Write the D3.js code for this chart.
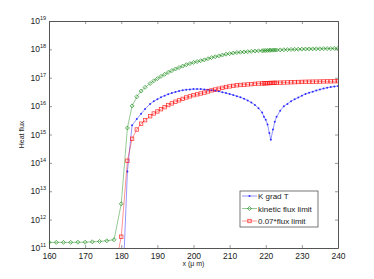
<!DOCTYPE html>
<html>
<head>
<meta charset="utf-8">
<script src="https://cdn.jsdelivr.net/npm/d3@7"></script>
<style>
  body { margin: 0; background: #fff; }
  svg { display: block; font-family: "Liberation Sans", Arial, sans-serif; }
</style>
</head>
<body>
<div id="chart"></div>
<script>
var width = 374,
	height = 279;
var margin = {top: 21, right: 36, bottom: 31, left: 49};

// x positions (µm)
var xs = [160, 162, 164, 166, 168, 170, 172, 174, 176, 178,
	180, 181.7, 183, 184.3, 185.5, 186.6, 188, 189, 190, 191, 192, 193, 194, 195,
	196, 197, 198, 199, 200, 201, 202, 203, 204, 205, 206, 207, 208, 209, 210,
	211, 212, 213, 214, 215, 216, 217, 218, 219, 219.5, 220, 220.5, 221, 221.4,
	222, 222.5, 223, 224, 225, 226, 227, 228, 229, 230, 231, 232, 233, 234, 235,
	236, 237, 238, 239, 240];

// K grad T (nothing drawn before 180)
var kgrad = [null, null, null, null, null, null, null, null, null, null,
	2e8, 5e13, 2.1e15, 3.5e15, 5.4e15, 7.9e15, 1.2e16, 1.48e16, 1.74e16, 2.04e16, 2.34e16, 2.63e16, 2.88e16, 3.16e16,
	3.39e16, 3.63e16, 3.8e16, 3.89e16, 3.98e16, 3.98e16, 3.98e16, 3.89e16, 3.8e16, 3.63e16, 3.47e16, 3.31e16, 3.09e16, 2.88e16, 2.69e16,
	2.45e16, 2.24e16, 2.04e16, 1.82e16, 1.58e16, 1.35e16, 1.1e16, 8.5e15, 6.0e15, 4.2e15, 3.3e15, 2.24e15, 1.12e15, 6.5e14,
	1.5e15, 2.8e15, 4.2e15, 6.9e15, 9.8e15, 1.2e16, 1.48e16, 1.74e16, 2.0e16, 2.34e16, 2.69e16, 2.95e16, 3.24e16, 3.55e16, 3.89e16,
	4.17e16, 4.47e16, 4.68e16, 4.9e16, 5.13e16];

// kinetic flux limit
var kinetic = [1.58e11, 1.58e11, 1.58e11, 1.58e11, 1.6e11, 1.6e11, 1.65e11, 1.7e11, 1.8e11, 1.95e11,
	3.6e12, 1.7e15, 1.02e16, 2.14e16, 3.4e16, 4.6e16, 6.3e16, 7.8e16, 9.3e16, 1.12e17, 1.32e17, 1.55e17, 1.78e17, 2.04e17,
	2.29e17, 2.57e17, 2.88e17, 3.16e17, 3.47e17, 3.72e17, 3.98e17, 4.27e17, 4.68e17, 5.13e17, 5.5e17, 5.89e17, 6.31e17, 6.76e17, 7.08e17,
	7.41e17, 7.76e17, 7.94e17, 8.13e17, 8.32e17, 8.51e17, 8.71e17, 8.91e17, 9.0e17, 9.1e17, 9.12e17, 9.2e17, 9.3e17, 9.35e17,
	9.4e17, 9.45e17, 9.5e17, 9.6e17, 9.7e17, 9.8e17, 9.9e17, 1.0e18, 1.01e18, 1.02e18, 1.03e18, 1.035e18, 1.04e18, 1.045e18, 1.05e18,
	1.06e18, 1.065e18, 1.07e18, 1.08e18, 1.09e18];

// 0.07*flux limit
var limit07 = [1.1e10, 1.1e10, 1.1e10, 1.1e10, 1.12e10, 1.12e10, 1.16e10, 1.19e10, 1.26e10, 1.37e10,
	2.5e11, 1.19e14, 7.1e14, 1.5e15, 2.4e15, 3.2e15, 4.4e15, 5.5e15, 6.5e15, 7.8e15, 9.2e15, 1.09e16, 1.25e16, 1.43e16,
	1.6e16, 1.8e16, 2.02e16, 2.21e16, 2.43e16, 2.6e16, 2.79e16, 2.99e16, 3.28e16, 3.59e16, 3.85e16, 4.12e16, 4.42e16, 4.73e16, 4.96e16,
	5.19e16, 5.43e16, 5.56e16, 5.69e16, 5.82e16, 5.96e16, 6.1e16, 6.24e16, 6.3e16, 6.37e16, 6.38e16, 6.44e16, 6.51e16, 6.55e16,
	6.58e16, 6.62e16, 6.65e16, 6.72e16, 6.79e16, 6.86e16, 6.93e16, 7.0e16, 7.07e16, 7.14e16, 7.21e16, 7.25e16, 7.28e16, 7.32e16, 7.35e16,
	7.42e16, 7.46e16, 7.49e16, 7.56e16, 7.63e16];

var seriesNames = ["K grad T", "kinetic flux limit", "0.07*flux limit"];
var seriesColors = ["#0000ff", "#008000", "#ff0000"];
var seriesMarkers = ["dot", "diamond", "square"];

var xTicks = [160, 170, 180, 190, 200, 210, 220, 230, 240];
var yExps = [11, 12, 13, 14, 15, 16, 17, 18, 19];

var svg = d3.select("#chart")
	.append("svg")
	.attr("width", width)
	.attr("height", height);

var x = d3.scaleLinear()
	.domain([160, 240])
	.range([margin.left, width - margin.right]);

var y = d3.scaleLog()
	.domain([1e11, 1e19])
	.range([height - margin.bottom, margin.top]);

svg.append("clipPath").attr("id", "plotclip")
	.append("rect")
	.attr("x", margin.left).attr("y", margin.top)
	.attr("width", x.range()[1] - margin.left)
	.attr("height", y.range()[0] - margin.top);

//axes
var axisColor = "#555";
var gx = svg.append("g")
	.attr("transform", "translate(0," + y.range()[0] + ")")
	.call(d3.axisBottom(x).tickValues(xTicks).tickSizeInner(-3).tickSizeOuter(0).tickPadding(5));
var gxTop = svg.append("g")
	.attr("transform", "translate(0," + margin.top + ")")
	.call(d3.axisTop(x).tickValues(xTicks).tickSizeInner(-3).tickSizeOuter(0).tickFormat(""));
var gy = svg.append("g")
	.attr("transform", "translate(" + margin.left + ",0)")
	.call(d3.axisLeft(y).tickValues(yExps.map(function(e) { return Math.pow(10, e); }))
		.tickSizeInner(-3).tickSizeOuter(0).tickFormat(""));
var gyRight = svg.append("g")
	.attr("transform", "translate(" + x.range()[1] + ",0)")
	.call(d3.axisRight(y).tickValues(yExps.map(function(e) { return Math.pow(10, e); }))
		.tickSizeInner(-3).tickSizeOuter(0).tickFormat(""));

[gx, gxTop, gy, gyRight].forEach(function(g) {
	g.select(".domain").attr("stroke", axisColor).attr("stroke-width", 1);
	g.selectAll(".tick line").attr("stroke", axisColor).attr("stroke-width", 0.6);
});
gx.selectAll(".tick text")
	.attr("fill", "#222")
	.style("font-size", "8.5px");

// y tick labels 10^n
var ylab = svg.append("g");
yExps.forEach(function(e) {
	var t = ylab.append("text")
		.attr("x", margin.left - 3)
		.attr("y", y(Math.pow(10, e)) + 3)
		.attr("text-anchor", "end")
		.attr("fill", "#222")
		.style("font-size", "8.5px");
	t.append("tspan").text("10");
	t.append("tspan").attr("dy", -4).style("font-size", "5.5px").text(e);
});

// axis titles
svg.append("text")
	.attr("x", (x.range()[0] + x.range()[1]) / 2)
	.attr("y", 266)
	.attr("text-anchor", "middle")
	.attr("fill", "#222")
	.style("font-size", "7px")
	.text("x (\u03bc m)");

svg.append("text")
	.attr("transform", "translate(24," + (margin.top + y.range()[0]) / 2 + ") rotate(-90)")
	.attr("text-anchor", "middle")
	.attr("fill", "#222")
	.style("font-size", "7px")
	.text("Heat flux");

//drawing the series
function drawMarker(g, type, cx, cy, color) {
	if (type == "dot") {
		g.append("circle").attr("cx", cx).attr("cy", cy).attr("r", 1)
			.attr("fill", color).attr("fill-opacity", 0.75);
	} else if (type == "diamond") {
		g.append("path")
			.attr("d", "M" + cx + "," + (cy - 2) + "L" + (cx + 2) + "," + cy + "L" + cx + "," + (cy + 2) + "L" + (cx - 2) + "," + cy + "Z")
			.attr("fill", "none").attr("stroke", color).attr("stroke-width", 0.8).attr("stroke-opacity", 0.75);
	} else {
		g.append("rect").attr("x", cx - 1.7).attr("y", cy - 1.7).attr("width", 3.4).attr("height", 3.4)
			.attr("fill", "none").attr("stroke", color).attr("stroke-width", 0.8).attr("stroke-opacity", 0.75);
	}
}

var plot = svg.append("g").attr("clip-path", "url(#plotclip)");
var allSeries = [kgrad, kinetic, limit07];

var line = d3.line()
	.defined(function(d) { return d[1] != null; })
	.x(function(d) { return x(d[0]); })
	.y(function(d) { return y(d[1]); });

allSeries.forEach(function(vals, k) {
	var pts = xs.map(function(xv, i) { return [xv, vals[i]]; });
	plot.append("path")
		.datum(pts)
		.attr("fill", "none")
		.attr("stroke", seriesColors[k])
		.attr("stroke-width", 0.6)
		.attr("stroke-opacity", 0.7)
		.attr("d", line);
	var mg = plot.append("g");
	pts.forEach(function(p) {
		if (p[1] == null) return;
		drawMarker(mg, seriesMarkers[k], x(p[0]), y(p[1]), seriesColors[k]);
	});
});

// legend
var lg = svg.append("g").attr("transform", "translate(240,191)");
lg.append("rect")
	.attr("width", 78).attr("height", 36)
	.attr("fill", "#fff").attr("stroke", axisColor).attr("stroke-width", 0.8);
seriesNames.forEach(function(name, k) {
	var ly = 5 + k * 12.5;
	lg.append("line")
		.attr("x1", 2).attr("x2", 17).attr("y1", ly).attr("y2", ly)
		.attr("stroke", seriesColors[k]).attr("stroke-width", 0.6).attr("stroke-opacity", 0.7);
	drawMarker(lg, seriesMarkers[k], 9.5, ly, seriesColors[k]);
	lg.append("text")
		.attr("x", 18).attr("y", ly + 3)
		.attr("fill", "#222")
		.style("font-size", "8px")
		.text(name);
});
</script>
</body>
</html>
